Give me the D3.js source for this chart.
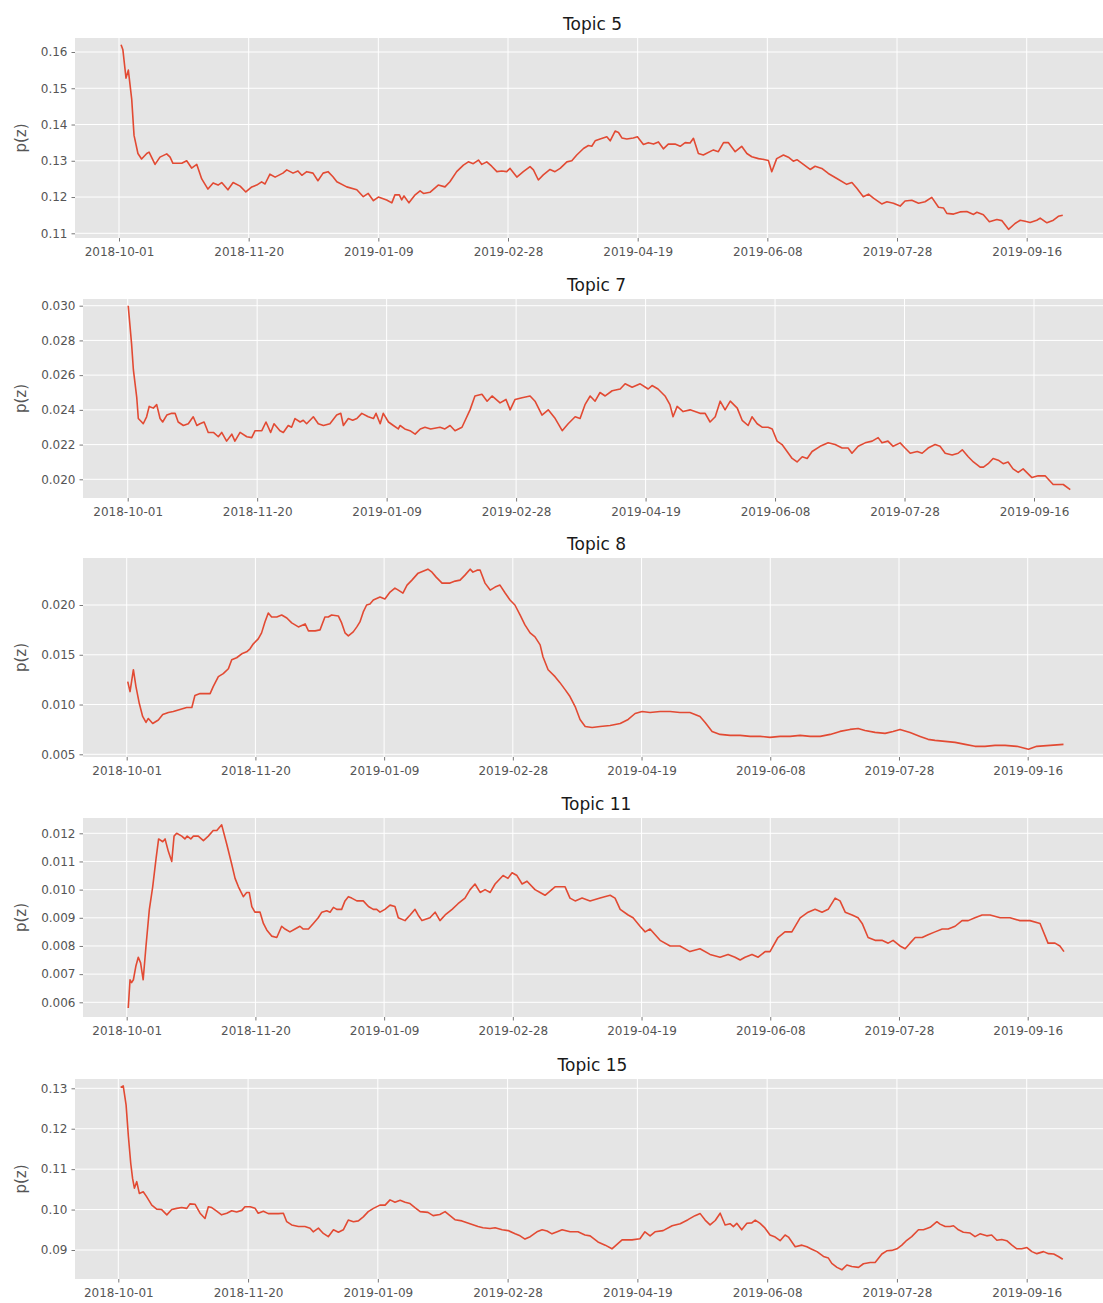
<!DOCTYPE html>
<html><head><meta charset="utf-8">
<script src="https://cdn.jsdelivr.net/npm/d3@7"></script>
<style>body{margin:0;background:#fff;overflow:hidden} svg{display:block} text{font-family:"DejaVu Sans",sans-serif}</style>
</head><body><svg id="c" width="1103" height="1303"></svg>
<script>
// ---------- data ----------
const START = "2018-10-01"; // day 0 of every series
const xTickLabels = ["2018-10-01","2018-11-20","2019-01-09","2019-02-28","2019-04-19","2019-06-08","2019-07-28","2019-09-16"];
const topicNames = ["Topic 5","Topic 7","Topic 8","Topic 11","Topic 15"];
const yLabel = "p(z)";
const yTicks5  = [0.11,0.12,0.13,0.14,0.15,0.16];
const yTicks7  = [0.020,0.022,0.024,0.026,0.028,0.030];
const yTicks8  = [0.005,0.010,0.015,0.020];
const yTicks11 = [0.006,0.007,0.008,0.009,0.010,0.011,0.012];
const yTicks15 = [0.09,0.10,0.11,0.12,0.13];

// [day offset from START, p(z)]
const topic5 = [[0.8,0.162],[1.5,0.1606],[2.7,0.1528],[3.6,0.155],[4.9,0.147],[5.8,0.137],[7.3,0.132],[8.7,0.1305],[10.7,0.132],[11.6,0.1324],[13.9,0.129],[15.8,0.131],[18.4,0.1319],[19.7,0.131],[20.8,0.1293],[24.2,0.1293],[26.1,0.130],[28,0.128],[30,0.129],[31.9,0.125],[34.3,0.1222],[36.3,0.1239],[38.2,0.1233],[39.6,0.124],[42,0.122],[44,0.124],[46.7,0.123],[48.9,0.1214],[51.2,0.1228],[53.1,0.1233],[55,0.1242],[56.3,0.1236],[58.2,0.1263],[60.2,0.1255],[63.2,0.1266],[64.7,0.1275],[67.1,0.1266],[69,0.1272],[70.5,0.126],[72.4,0.127],[74.8,0.1266],[76.7,0.1245],[78.7,0.1266],[80.6,0.127],[82.5,0.1256],[84,0.1242],[87.8,0.1228],[91.7,0.122],[94.2,0.1201],[96.1,0.121],[98.1,0.119],[100,0.120],[103.2,0.1192],[105.2,0.1184],[106.4,0.1206],[108.1,0.1206],[109,0.1192],[109.9,0.1203],[111.8,0.1184],[114.2,0.1206],[116.1,0.1217],[117.4,0.121],[119.9,0.1213],[123.1,0.1233],[125.7,0.1228],[127.6,0.1242],[130.2,0.127],[132.8,0.1288],[134.7,0.1297],[136.6,0.1292],[138.6,0.1302],[139.9,0.129],[141.8,0.1297],[143.7,0.1285],[145.7,0.127],[147.6,0.1272],[149.5,0.127],[150.8,0.1279],[153.4,0.1255],[155.9,0.127],[158.5,0.1284],[159.8,0.1275],[161.7,0.1247],[163.6,0.1261],[166.2,0.1276],[168.1,0.127],[170.1,0.1279],[172.7,0.1297],[174.6,0.130],[176.5,0.1316],[179.1,0.1334],[181,0.1342],[182.3,0.134],[183.6,0.1355],[185.5,0.136],[188.1,0.1366],[189.4,0.1355],[191.3,0.1382],[192.6,0.1378],[193.9,0.1363],[195.8,0.136],[198.3,0.1363],[199.9,0.1366],[202.2,0.1345],[204.1,0.135],[206.1,0.1346],[208,0.1352],[209.9,0.1333],[211.8,0.1346],[214.4,0.1346],[216.4,0.134],[218.3,0.135],[220.2,0.1349],[221.5,0.1362],[223.4,0.132],[225.3,0.1316],[229.2,0.133],[231.1,0.1325],[233.1,0.135],[235,0.135],[237.6,0.1325],[240.1,0.134],[242.1,0.132],[244,0.1311],[246.6,0.1306],[249.1,0.1303],[250.4,0.1301],[251.7,0.127],[253.6,0.1306],[256.2,0.1316],[258.1,0.131],[260,0.1299],[261.4,0.1303],[263.9,0.129],[266.5,0.1276],[268.4,0.1285],[271,0.1279],[273.5,0.1265],[276.8,0.1251],[280.6,0.1235],[282.6,0.124],[284.5,0.1224],[287,0.1201],[289,0.1208],[290.9,0.1197],[294.1,0.1181],[296.1,0.1187],[298.6,0.1183],[301.2,0.1175],[303.1,0.1189],[305.7,0.1191],[308.3,0.1183],[310.8,0.1187],[313.4,0.1199],[316,0.1172],[317.9,0.117],[319.2,0.1155],[321.8,0.1153],[324.3,0.1159],[326.9,0.116],[329.5,0.1152],[330.8,0.1158],[333.3,0.1151],[335.6,0.1132],[338.5,0.1138],[340.4,0.1135],[343,0.1111],[345.5,0.1127],[347.5,0.1136],[349.4,0.1133],[351.3,0.113],[353.9,0.1136],[355.2,0.1142],[357.8,0.1129],[360.3,0.1136],[362.2,0.1147],[363.9,0.115]];

const topic7 = [[0.2,0.0300],[1.5,0.0278],[2.2,0.0263],[3.5,0.0247],[4.1,0.0235],[5.4,0.0233],[6.0,0.0232],[7.3,0.0236],[8.3,0.0242],[9.9,0.0241],[11.2,0.0243],[12.5,0.0235],[13.5,0.0233],[15.1,0.0237],[17.0,0.0238],[18.3,0.0238],[19.5,0.0233],[21.5,0.0231],[23.4,0.0232],[25.3,0.0236],[26.7,0.0231],[27.9,0.0232],[29.5,0.0233],[31.1,0.0227],[33.1,0.0227],[35.0,0.02245],[36.3,0.0227],[38.2,0.0222],[40.2,0.0226],[41.4,0.0222],[43.4,0.0227],[46.0,0.02245],[47.9,0.0224],[49.2,0.0228],[51.8,0.0228],[53.4,0.0233],[55.2,0.0227],[56.5,0.0232],[58.8,0.0228],[60.1,0.0227],[62.0,0.0231],[63.3,0.0230],[64.6,0.0235],[66.6,0.0233],[67.8,0.0234],[69.1,0.0232],[71.7,0.0236],[73.6,0.0232],[75.6,0.0231],[78.1,0.0232],[80.7,0.0237],[82.3,0.0238],[83.3,0.0231],[85.2,0.0235],[86.9,0.0234],[88.5,0.0235],[90.4,0.0238],[92.9,0.0236],[94.9,0.0235],[95.9,0.0238],[97.5,0.0232],[98.7,0.0238],[100.7,0.0233],[102.6,0.0231],[104.5,0.0229],[105.2,0.0231],[107.0,0.0229],[109.0,0.0228],[111.0,0.0226],[113.0,0.0229],[114.8,0.0230],[117.0,0.0229],[120.6,0.0230],[122.5,0.0229],[124.5,0.0231],[126.4,0.0228],[129.1,0.0230],[132.2,0.0240],[134.1,0.0248],[136.8,0.0249],[138.8,0.0245],[140.7,0.0248],[143.8,0.0244],[146.1,0.0246],[147.7,0.0240],[149.6,0.0246],[152.3,0.0247],[155.4,0.0248],[157.3,0.0245],[160.0,0.0237],[162.4,0.0240],[165.1,0.0235],[167.8,0.0228],[170.1,0.0232],[172.8,0.0236],[174.7,0.0235],[176.6,0.0243],[178.6,0.0248],[180.5,0.0245],[182.4,0.0250],[184.4,0.0248],[187.1,0.0251],[190.2,0.0252],[192.1,0.0255],[194.8,0.0253],[197.9,0.0255],[201.0,0.0252],[202.5,0.0254],[204.8,0.0252],[207.5,0.0248],[209.4,0.0243],[210.6,0.0236],[212.2,0.0242],[214.5,0.0239],[217.2,0.0240],[221.0,0.0238],[223.0,0.0238],[224.9,0.0233],[226.9,0.0236],[228.8,0.0245],[230.7,0.0240],[232.7,0.0245],[235.4,0.0241],[237.3,0.0234],[239.6,0.0231],[241.1,0.0236],[243.1,0.0232],[245.0,0.0230],[247.3,0.0230],[248.9,0.0229],[250.8,0.0222],[252.7,0.0220],[256.6,0.0212],[258.5,0.0210],[260.5,0.0213],[262.4,0.0212],[264.3,0.0216],[267.4,0.0219],[270.5,0.0221],[273.2,0.0220],[275.9,0.0218],[278.2,0.0218],[279.7,0.0215],[282.1,0.0219],[284.8,0.0221],[287.5,0.0222],[289.8,0.0224],[291.3,0.0221],[293.6,0.0222],[295.6,0.0219],[298.3,0.0221],[300.2,0.0218],[302.2,0.0215],[304.9,0.0216],[306.8,0.0215],[309.1,0.0218],[311.8,0.0220],[313.7,0.0219],[315.7,0.0215],[318.4,0.0214],[320.7,0.0215],[322.3,0.0217],[324.6,0.0213],[326.6,0.0210],[329.2,0.0207],[330.5,0.0207],[332.3,0.0209],[334.2,0.0212],[336.2,0.0211],[338.1,0.0209],[340.0,0.0210],[341.9,0.0206],[343.9,0.0204],[345.8,0.0206],[349.2,0.0201],[351.6,0.0202],[354.3,0.0202],[357.4,0.0197],[361.3,0.0197],[364.0,0.0194]];

const topic8 = [[0.4,0.0123],[1.3,0.0113],[2.6,0.0135],[3.6,0.0118],[4.9,0.0101],[6.2,0.0088],[7.5,0.0082],[8.4,0.0086],[10.1,0.0081],[12.3,0.00845],[14.0,0.0090],[16.2,0.0092],[18.1,0.0093],[20.7,0.0095],[23.3,0.0097],[25.3,0.0097],[26.5,0.0109],[28.5,0.0111],[30.4,0.0111],[32.4,0.0111],[33.6,0.0118],[35.6,0.0128],[37.5,0.0131],[39.5,0.0136],[40.8,0.0145],[42.7,0.0147],[44.7,0.0151],[46.6,0.0153],[47.9,0.0156],[49.2,0.0161],[51.1,0.0166],[52.4,0.0172],[53.7,0.0183],[55.0,0.0192],[56.3,0.0188],[58.3,0.0188],[60.2,0.0190],[62.2,0.0187],[64.1,0.0182],[66.7,0.0178],[69.3,0.0181],[70.6,0.0174],[73.2,0.0174],[75.1,0.0175],[77.0,0.0188],[78.3,0.0188],[79.6,0.0190],[82.2,0.0189],[83.5,0.0182],[84.8,0.0172],[86.1,0.0169],[88.0,0.0173],[89.4,0.0178],[90.6,0.0183],[91.9,0.0193],[93.2,0.0200],[94.5,0.0201],[95.8,0.0205],[98.4,0.0208],[100.3,0.0206],[102.3,0.0213],[104.2,0.0217],[105.5,0.0215],[107.3,0.0212],[108.9,0.0220],[110.8,0.0225],[113.2,0.0232],[117.0,0.0236],[118.6,0.0233],[120.2,0.0228],[122.5,0.0222],[125.6,0.0222],[127.6,0.0224],[129.5,0.0225],[131.4,0.0230],[133.4,0.0236],[134.5,0.0233],[136.1,0.0235],[137.3,0.0235],[139.2,0.0222],[141.2,0.0215],[143.1,0.0218],[145.0,0.0220],[147.0,0.0212],[148.9,0.0205],[150.8,0.0200],[152.8,0.0190],[154.7,0.0180],[156.7,0.0172],[158.6,0.0168],[160.6,0.0160],[161.7,0.0148],[163.7,0.0135],[166.4,0.0128],[168.3,0.0122],[170.3,0.0115],[172.2,0.0108],[174.2,0.0098],[176.1,0.0085],[178.1,0.0078],[180.8,0.0077],[183.9,0.0078],[187.8,0.0079],[191.7,0.0081],[194.8,0.0085],[197.5,0.0091],[200.2,0.0093],[203.3,0.0092],[207.2,0.0093],[211.1,0.0093],[214.9,0.0092],[218.8,0.0092],[222.7,0.0088],[224.7,0.0082],[227.4,0.0073],[230.5,0.0070],[234.4,0.0069],[238.3,0.0069],[242.2,0.0068],[246.1,0.0068],[249.9,0.0067],[253.8,0.0068],[257.7,0.0068],[261.6,0.0069],[265.5,0.0068],[269.4,0.0068],[273.3,0.0070],[277.1,0.0073],[281.0,0.0075],[284.1,0.0076],[286.8,0.0074],[290.7,0.0072],[294.6,0.0071],[297.7,0.0073],[300.4,0.0075],[304.3,0.0072],[308.2,0.0068],[311.3,0.0065],[314.0,0.0064],[317.9,0.0063],[321.8,0.0062],[325.7,0.0060],[329.5,0.0058],[333.4,0.0058],[337.3,0.0059],[341.2,0.0059],[345.8,0.0058],[350.3,0.0055],[353.5,0.0058],[358.7,0.0059],[363.9,0.0060]];

const topic11 = [[0.6,0.0058],[1.3,0.0068],[1.9,0.0067],[2.6,0.0068],[3.6,0.0073],[4.5,0.0076],[5.4,0.0074],[6.4,0.0068],[7.5,0.0080],[8.8,0.0093],[10.1,0.0101],[11.4,0.0111],[12.4,0.0118],[14.0,0.0117],[14.9,0.0118],[16.2,0.01135],[17.5,0.0110],[18.4,0.0119],[19.4,0.0120],[21.4,0.0119],[22.6,0.0118],[23.5,0.0119],[24.9,0.0118],[25.9,0.0119],[27.8,0.0119],[29.8,0.01174],[31.7,0.0119],[33.6,0.0121],[35.0,0.0121],[36.9,0.0123],[38.9,0.0116],[40.8,0.0109],[42.1,0.0104],[43.4,0.0101],[45.3,0.00975],[46.6,0.0099],[47.6,0.0099],[48.6,0.0094],[49.8,0.0092],[51.8,0.0092],[53.1,0.0088],[54.4,0.00857],[56.3,0.00835],[58.3,0.0083],[60.2,0.0087],[61.5,0.0086],[63.4,0.0085],[65.4,0.0086],[67.3,0.0087],[68.6,0.0086],[70.6,0.0086],[72.5,0.0088],[74.4,0.0090],[75.8,0.0092],[77.7,0.00925],[79.0,0.0092],[80.3,0.00937],[81.6,0.0093],[83.5,0.0093],[84.8,0.0096],[86.1,0.00975],[87.4,0.0097],[89.4,0.0096],[91.9,0.0096],[93.9,0.0094],[95.8,0.0093],[97.1,0.0093],[98.4,0.0092],[100.3,0.0093],[102.3,0.00945],[104.2,0.0094],[105.5,0.0090],[108.1,0.0089],[110.1,0.0091],[112.0,0.0093],[113.2,0.0091],[114.7,0.0089],[117.8,0.0090],[119.8,0.0092],[121.7,0.0089],[123.7,0.0091],[126.4,0.0093],[128.7,0.0095],[131.4,0.0097],[133.4,0.0100],[135.3,0.0102],[137.3,0.0099],[139.2,0.0100],[141.2,0.0099],[143.1,0.0102],[146.2,0.0105],[148.1,0.0104],[149.7,0.0106],[151.6,0.0105],[153.6,0.0102],[155.5,0.0103],[158.6,0.0100],[160.6,0.0099],[162.5,0.0098],[166.4,0.0101],[170.3,0.0101],[172.2,0.0097],[174.2,0.0096],[176.9,0.0097],[180.0,0.0096],[183.9,0.0097],[187.8,0.0098],[189.7,0.0097],[191.7,0.0093],[194.8,0.0091],[196.7,0.0090],[199.4,0.0087],[201.4,0.0085],[203.3,0.0086],[207.2,0.0082],[211.1,0.0080],[214.9,0.0080],[218.8,0.0078],[222.7,0.0079],[226.6,0.0077],[230.5,0.0076],[233.6,0.0077],[236.3,0.0076],[238.3,0.0075],[240.2,0.0076],[242.9,0.0077],[245.3,0.0076],[248.0,0.0078],[249.9,0.0078],[253.0,0.0083],[255.7,0.0085],[258.4,0.0085],[261.6,0.0090],[264.7,0.0092],[267.4,0.0093],[270.1,0.0092],[272.5,0.0093],[275.2,0.0097],[277.1,0.0096],[279.1,0.0092],[281.8,0.0091],[284.1,0.0090],[285.7,0.0088],[288.0,0.0083],[290.7,0.0082],[293.4,0.0082],[295.8,0.0081],[297.7,0.0082],[300.4,0.0080],[302.4,0.0079],[304.3,0.0081],[306.3,0.0083],[309.0,0.0083],[311.3,0.0084],[314.0,0.0085],[316.8,0.0086],[319.1,0.0086],[321.8,0.0087],[324.5,0.0089],[326.9,0.0089],[329.5,0.0090],[332.3,0.0091],[335.4,0.0091],[339.3,0.0090],[343.1,0.0090],[347.0,0.0089],[350.9,0.0089],[354.8,0.0088],[357.9,0.0081],[360.6,0.0081],[362.5,0.0080],[364.1,0.0078]];

const topic15 = [[0.9,0.1302],[1.9,0.1306],[3.0,0.1259],[3.9,0.118],[4.8,0.1114],[5.5,0.1077],[6.2,0.1053],[7.1,0.1069],[8.1,0.104],[9.6,0.1044],[10.9,0.1032],[12.9,0.1011],[14.8,0.1001],[16.7,0.1000],[18.7,0.0987],[20.6,0.1000],[22.5,0.1003],[24.4,0.1005],[26.4,0.1003],[27.6,0.1014],[29.6,0.1013],[31.5,0.0991],[33.4,0.0978],[34.7,0.1007],[36.0,0.1005],[37.9,0.0996],[39.8,0.0987],[41.8,0.0991],[43.7,0.0997],[45.6,0.0994],[47.6,0.0998],[48.8,0.1007],[50.8,0.1007],[52.7,0.1003],[53.9,0.0991],[55.9,0.0996],[57.8,0.0990],[59.7,0.0990],[61.7,0.0990],[63.6,0.0991],[64.9,0.0970],[66.8,0.0962],[69.4,0.0958],[71.9,0.0958],[73.9,0.0954],[75.1,0.0945],[77.1,0.0954],[79.0,0.0941],[80.9,0.0933],[82.9,0.0950],[84.8,0.0944],[86.7,0.0950],[88.6,0.0974],[90.6,0.0970],[92.5,0.0972],[94.4,0.0982],[96.3,0.0995],[98.3,0.1003],[100.8,0.1011],[102.8,0.1011],[104.7,0.1024],[106.6,0.1018],[108.6,0.1023],[110.5,0.1018],[112.4,0.1015],[114.3,0.1005],[116.3,0.0995],[119.3,0.0993],[121.3,0.0985],[123.9,0.0988],[125.9,0.0995],[127.8,0.0985],[129.7,0.0975],[132.4,0.0972],[135.5,0.0965],[138.6,0.0958],[140.5,0.0955],[143.2,0.0953],[145.2,0.0955],[147.9,0.0950],[150.2,0.0948],[152.9,0.0940],[154.8,0.0935],[156.7,0.0927],[158.7,0.0933],[161.3,0.0945],[163.3,0.0950],[165.2,0.0947],[167.1,0.0940],[169.1,0.0945],[171.0,0.0950],[174.1,0.0945],[177.1,0.0945],[179.8,0.0937],[181.8,0.0935],[184.8,0.0920],[187.6,0.0912],[190.2,0.0903],[194.1,0.0925],[197.9,0.0925],[201.0,0.0928],[202.9,0.0945],[204.9,0.0935],[206.8,0.0945],[209.9,0.0948],[213.4,0.0960],[216.5,0.0965],[219.5,0.0975],[222.2,0.0985],[224.2,0.0990],[226.1,0.0974],[228.0,0.0962],[230.0,0.0973],[231.9,0.0991],[233.8,0.0962],[235.7,0.0965],[237.0,0.0958],[238.3,0.0966],[240.2,0.0950],[242.2,0.0966],[244.1,0.0967],[245.4,0.0974],[247.3,0.0966],[249.2,0.0954],[251.1,0.0937],[253.1,0.0932],[255.0,0.0923],[256.9,0.0937],[258.2,0.0932],[260.8,0.0908],[263.4,0.0912],[265.3,0.0908],[267.2,0.0902],[269.2,0.0896],[271.7,0.0884],[273.6,0.0880],[274.9,0.0867],[276.9,0.0857],[278.8,0.0851],[280.7,0.0863],[282.6,0.0859],[285.2,0.0857],[287.1,0.0866],[289.7,0.0869],[291.6,0.0869],[294.2,0.0890],[296.1,0.0898],[298.0,0.0899],[300.0,0.0903],[301.9,0.0912],[303.8,0.0924],[305.7,0.0933],[308.3,0.0950],[310.2,0.0950],[312.8,0.0956],[315.4,0.0970],[316.6,0.0964],[318.6,0.0958],[320.5,0.0958],[321.8,0.0960],[323.7,0.0950],[325.6,0.0944],[328.2,0.0942],[330.1,0.0933],[332.0,0.0940],[334.6,0.0935],[336.5,0.0937],[338.5,0.0924],[340.4,0.0926],[342.3,0.0923],[344.3,0.0912],[346.2,0.0903],[348.1,0.0903],[350.1,0.0906],[352.0,0.0896],[353.9,0.0891],[356.5,0.0896],[358.4,0.0891],[360.4,0.0890],[362.2,0.0884],[363.9,0.0877]];

// ---------- layout ----------
const parse = d3.timeParse("%Y-%m-%d");
const t0 = parse(START);
const firstTick = parse(xTickLabels[0]), lastTick = parse(xTickLabels[xTickLabels.length-1]);
const panels = [
  {title:topicNames[0], data:topic5,  yTicks:yTicks5,  fmt:".2f", left:75, top:38,   bottom:238,  xr:[119,1026.7],   yr:[233.3,52]},
  {title:topicNames[1], data:topic7,  yTicks:yTicks7,  fmt:".3f", left:83, top:299,  bottom:498,  xr:[127.7,1034],   yr:[479.3,305.7]},
  {title:topicNames[2], data:topic8,  yTicks:yTicks8,  fmt:".3f", left:83, top:558,  bottom:757,  xr:[126.7,1027.7], yr:[754.3,605]},
  {title:topicNames[3], data:topic11, yTicks:yTicks11, fmt:".3f", left:83, top:818,  bottom:1017, xr:[126.7,1027.7], yr:[1002.3,833.3]},
  {title:topicNames[4], data:topic15, yTicks:yTicks15, fmt:".2f", left:75, top:1079, bottom:1279, xr:[118.3,1026.7], yr:[1250,1088.3]}
];
const RIGHT = 1110;
const svg = d3.select("#c");
const defs = svg.append("defs");

panels.forEach((p, i) => {
  const x = d3.scaleTime().domain([firstTick, lastTick]).range(p.xr);
  const yT = p.yTicks;
  const y = d3.scaleLinear().domain([yT[0], yT[yT.length-1]]).range(p.yr);
  const W = RIGHT - p.left, H = p.bottom - p.top;
  const cid = "clip" + i;
  defs.append("clipPath").attr("id", cid).append("rect")
    .attr("x", p.left).attr("y", p.top).attr("width", W).attr("height", H);
  const g = svg.append("g");
  g.append("rect").attr("x", p.left).attr("y", p.top).attr("width", W).attr("height", H).attr("fill", "#E5E5E5");

  const tickDates = xTickLabels.map(parse);
  const grid = g.append("g").attr("clip-path", `url(#${cid})`);
  grid.selectAll("line.h").data(yT).enter().append("line")
    .attr("x1", p.left).attr("x2", RIGHT).attr("y1", d => y(d)).attr("y2", d => y(d))
    .attr("stroke", "#fff").attr("stroke-width", 1);
  grid.selectAll("line.v").data(tickDates).enter().append("line")
    .attr("y1", p.top).attr("y2", p.bottom).attr("x1", d => x(d)).attr("x2", d => x(d))
    .attr("stroke", "#fff").attr("stroke-width", 1);

  const xa = g.append("g").attr("transform", `translate(0,${p.bottom})`)
    .call(d3.axisBottom(x).tickValues(tickDates).tickFormat(d3.timeFormat("%Y-%m-%d")).tickSize(3.5).tickPadding(5.5));
  const ya = g.append("g").attr("transform", `translate(${p.left},0)`)
    .call(d3.axisLeft(y).tickValues(yT).tickFormat(d3.format(p.fmt)).tickSize(3.5).tickPadding(4));
  [xa, ya].forEach(a => {
    a.select(".domain").remove();
    a.selectAll(".tick line").attr("stroke", "#555").attr("stroke-width", 0.8);
    a.selectAll(".tick text").attr("fill", "#555").style("font-size", "12px").style("font-family", "'DejaVu Sans', sans-serif");
  });

  const line = d3.line()
    .x(d => x(new Date(t0.getTime() + d[0] * 864e5)))
    .y(d => y(d[1]));
  g.append("path").datum(p.data).attr("clip-path", `url(#${cid})`)
    .attr("d", line).attr("fill", "none").attr("stroke", "#E24A33").attr("stroke-width", 1.6)
    .attr("stroke-linejoin", "round");

  g.append("text").attr("x", (p.left + RIGHT) / 2).attr("y", p.top - 8)
    .attr("text-anchor", "middle").attr("fill", "#1a1a1a").style("font-size", "17px").text(p.title);
  g.append("text").attr("transform", `translate(26,${(p.top + p.bottom) / 2}) rotate(-90)`)
    .attr("text-anchor", "middle").attr("fill", "#555").style("font-size", "15px").text(yLabel);
});
</script></body></html>
